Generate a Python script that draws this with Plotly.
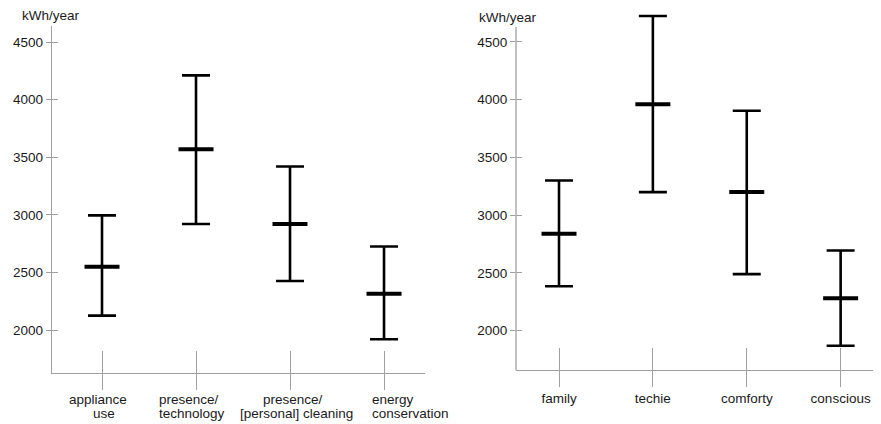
import plotly.graph_objects as go

# The page adds an 8 px body margin; figure coordinates below are page px - 8.
OFF = 8
W, H = 881 - OFF, 424 - OFF

# Left panel data
left_cats = ["appliance<br>use", "presence/<br>technology", "presence/<br>[personal] cleaning", "energy<br>conservation"]
left_mean = [2550, 3570, 2920, 2315]
left_low = [2125, 2920, 2425, 1920]
left_high = [2995, 4210, 3420, 2725]

# Right panel data
right_cats = ["family", "techie", "comforty", "conscious"]
right_mean = [2840, 3960, 3200, 2280]
right_low = [2385, 3200, 2490, 1870]
right_high = [3300, 4725, 3905, 2695]

y_ticks = [2000, 2500, 3000, 3500, 4000, 4500]
y_title = "kWh/year"

# style: horizontal offsets (px) of the left edge of each label line from its tick
left_label_shift = [[-35, -11], [-39, -39], [-29, -52], [-14, -14]]

FONT = "Liberation Sans, Arial, sans-serif"
AX = "#a0a0a0"
TXT = "#1a1a1a"

fig = go.Figure()


def add_panel(cats, mean, low, high, xa, ya, xo, yo):
    pos = list(range(len(cats)))
    fig.add_trace(go.Scatter(
        x=pos, y=mean, mode="markers", xaxis=xa, yaxis=ya, cliponaxis=False,
        marker=dict(symbol="line-ew", size=25, color="black",
                    line=dict(width=4, color="black")),
        error_y=dict(type="data", symmetric=False,
                     array=[h - m for h, m in zip(high, mean)],
                     arrayminus=[m - l for m, l in zip(mean, low)],
                     thickness=2.6, width=14, color="black"),
        showlegend=False, hoverinfo="skip"))
    # invisible trace to activate overlay axes
    fig.add_trace(go.Scatter(
        x=pos, y=mean, mode="markers", xaxis=xo, yaxis=yo,
        marker=dict(opacity=0), showlegend=False, hoverinfo="skip"))


add_panel(left_cats, left_mean, left_low, left_high, "x", "y", "x3", "y3")
add_panel(right_cats, right_mean, right_low, right_high, "x2", "y2", "x4", "y4")


def xdom(l_px, r_px):
    return [(l_px - OFF) / W, min(1.0, (r_px - OFF) / W)]


def ydom(top_px, bot_px):
    return [(H - (bot_px - OFF)) / H, (H - (top_px - OFF)) / H]


def ypaper(px):
    return 1 - (px - OFF) / H


lx_range = [-0.532, 3.436]
rx_range = [-0.458, 3.43]
ly_range = [1627, 4639]
ry_range = [1657, 4777]
r_axis_top = 4630

common_font = dict(family=FONT, size=13.5, color=TXT)

base = dict(showgrid=False, zeroline=False, automargin=False, tickangle=0)

annotations = [
    dict(text=y_title, xref="paper", yref="paper", x=(51 - OFF) / W, y=ypaper(15),
         showarrow=False, xanchor="center", yanchor="middle", font=common_font),
    dict(text=y_title, xref="paper", yref="paper", x=(508 - OFF) / W, y=ypaper(17),
         showarrow=False, xanchor="center", yanchor="middle", font=common_font),
]
line_y = [399, 413.5]
for i, lab in enumerate(left_cats):
    for j, line in enumerate(lab.split("<br>")):
        annotations.append(dict(
            text=line, xref="x", yref="paper", x=i, y=ypaper(line_y[j]),
            xshift=left_label_shift[i][j], showarrow=False,
            xanchor="left", yanchor="middle", font=common_font))

fig.update_layout(
    width=W, height=H, margin=dict(l=0, r=0, t=0, b=0),
    paper_bgcolor="white", plot_bgcolor="white",
    font=common_font,
    xaxis=dict(domain=xdom(52, 425), anchor="y", range=lx_range,
               tickmode="array", tickvals=list(range(4)), showticklabels=False,
               showline=True, linecolor=AX, linewidth=1.3,
               ticks="outside", ticklen=16, tickcolor=AX, tickwidth=1.3, **base),
    yaxis=dict(domain=ydom(26, 373), anchor="x", range=ly_range,
               tickmode="array", tickvals=y_ticks,
               showline=True, linecolor=AX, linewidth=1.3,
               ticks="outside", ticklen=5, tickcolor=AX, tickwidth=1.3,
               tickfont=common_font, **base),
    xaxis3=dict(overlaying="x", anchor="y3", range=lx_range,
                tickmode="array", tickvals=list(range(4)), showticklabels=False,
                showline=False, ticks="inside", ticklen=22, tickcolor=AX, tickwidth=1.3,
                **base),
    yaxis3=dict(overlaying="y", anchor="x3", range=ly_range,
                tickmode="array", tickvals=y_ticks, showticklabels=False,
                showline=False, ticks="inside", ticklen=6, tickcolor=AX, tickwidth=1.3,
                **base),
    xaxis2=dict(domain=xdom(516, 881), anchor="y2", range=rx_range,
                tickmode="array", tickvals=list(range(4)), ticktext=right_cats,
                showline=True, linecolor=AX, linewidth=1.3,
                ticks="outside", ticklen=16, tickcolor=AX, tickwidth=1.3,
                ticklabelstandoff=-1, tickfont=common_font, **base),
    yaxis2=dict(domain=ydom(10, 370.3), anchor="x2", range=ry_range,
                tickmode="array", tickvals=y_ticks,
                showline=False,
                ticks="outside", ticklen=5, tickcolor=AX, tickwidth=1.3,
                tickfont=common_font, **base),
    xaxis4=dict(overlaying="x2", anchor="y4", range=rx_range,
                tickmode="array", tickvals=list(range(4)), showticklabels=False,
                showline=False, ticks="inside", ticklen=22, tickcolor=AX, tickwidth=1.3,
                **base),
    yaxis4=dict(overlaying="y2", anchor="x4", range=ry_range,
                tickmode="array", tickvals=y_ticks, showticklabels=False,
                showline=False, ticks="inside", ticklen=6, tickcolor=AX, tickwidth=1.3,
                **base),
    shapes=[dict(type="line", xref="x2 domain", x0=0, x1=0, yref="y2",
                 y0=ry_range[0], y1=r_axis_top, layer="below",
                 line=dict(color=AX, width=1.3))],
    annotations=annotations,
)

fig.write_html("out.html")
